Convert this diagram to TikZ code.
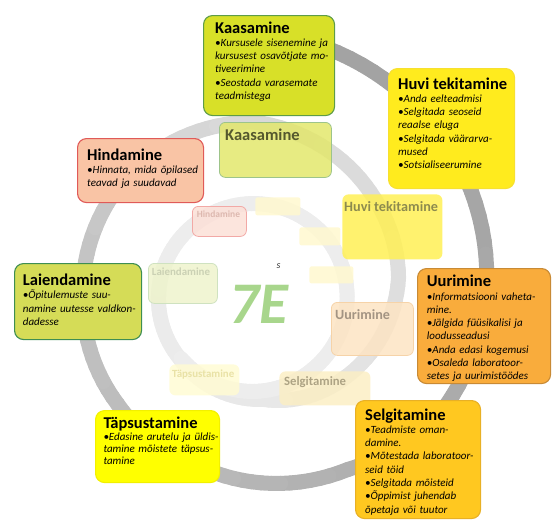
\documentclass[tikz,border=0pt]{standalone}
\usepackage{fontspec}
\setmainfont{Carlito}
\definecolor{kaasF}{HTML}{D8E028}\definecolor{kaasD}{HTML}{5E9C48}
\definecolor{huviF}{HTML}{FFEB1E}\definecolor{huviD}{HTML}{F7E030}
\definecolor{hindF}{HTML}{F9C4A5}\definecolor{hindD}{HTML}{E05A58}
\definecolor{laieF}{HTML}{D5DC57}\definecolor{laieD}{HTML}{3E8E52}
\definecolor{uuriF}{HTML}{F9AC3C}\definecolor{uuriD}{HTML}{C88A35}
\definecolor{selgF}{HTML}{FFC820}\definecolor{selgD}{HTML}{E8B025}
\definecolor{tapsF}{HTML}{FFFF00}\definecolor{tapsD}{HTML}{F2F000}
\definecolor{kaasS}{HTML}{E3E76C}\definecolor{kaasSd}{HTML}{9DC48A}\definecolor{kaasSt}{HTML}{55582E}
\definecolor{huviS}{HTML}{FFF055}\definecolor{huviSt}{HTML}{8D8B4E}
\definecolor{uuriS}{HTML}{FDE4C3}\definecolor{uuriSd}{HTML}{F6D3A8}\definecolor{uuriSt}{HTML}{A39483}
\definecolor{selgS}{HTML}{FBEEC4}\definecolor{selgSt}{HTML}{ADA384}
\definecolor{tapsS}{HTML}{FFFBD3}\definecolor{tapsSt}{HTML}{E9E2A6}
\definecolor{laieS}{HTML}{EEF3CC}\definecolor{laieSd}{HTML}{CFE2C0}\definecolor{laieSt}{HTML}{CBD1B4}
\definecolor{hindS}{HTML}{FCE0D7}\definecolor{hindSd}{HTML}{F2A9A6}\definecolor{hindSt}{HTML}{DDB8AF}
\definecolor{ghost}{HTML}{FFF8CF}
\definecolor{sevenE}{HTML}{A8D68C}
\newcommand\boxttl[1]{{\fontsize{16.5}{13.3}\selectfont\bfseries\upshape #1}}
\tikzset{
  mbox/.style={rounded corners=9pt, line width=1.1pt, inner sep=0pt, anchor=north west},
  fbox/.style={rounded corners=6pt, line width=0.8pt, inner sep=0pt, anchor=north west, fill opacity=0.85},
  mtxt/.style={anchor=base west, inner sep=0pt, text width=150pt, align=left,
    font=\fontsize{11}{13.3}\selectfont\itshape},
  ftxt/.style={anchor=base west, inner sep=0pt}
}
\begin{document}
\begin{tikzpicture}[x=1pt,y=-1pt]
\useasboundingbox (0,0) rectangle (557,531);
% spiral
\begin{scope}[shift={(253,298)}]
\foreach \ta/\ra/\ca/\tb/\rb/\cb in {
 -80/263/36/-26/243/35,
 -26/243/35/29/221/33,
 29/221/33/61/196/31,
 61/196/31/102/179/28,
 102/179/28/142/172/26,
 142/172/26/180/170/24,
 180/170/24/225/175/21,
 225/175/17/270/176/15,
 270/176/15/318/158/14,
 318/158/14/352/147/13,
 352/147/13/400/122/11,
 400/122/11/444/102/9,
 444/102/9/500/95/8,
 500/95/8/590/94/7,
 590/94/7/680/95/7,
 680/95/7/770/93/7,
 770/93/7/860/94/7}
{
  \pgfmathtruncatemacro\nseg{max(1,round(abs(\tb-\ta)/3))}
  \foreach \k in {1,...,\nseg}{
    \pgfmathsetmacro\fa{(\k-1)/\nseg}
    \pgfmathsetmacro\fb{\k/\nseg}
    \pgfmathsetmacro\tA{\ta+(\tb-\ta)*\fa}
    \pgfmathsetmacro\tB{\ta+(\tb-\ta)*\fb}
    \pgfmathsetmacro\rA{\ra+(\rb-\ra)*\fa}
    \pgfmathsetmacro\rB{\ra+(\rb-\ra)*\fb}
    \pgfmathtruncatemacro\cc{round(\ca+(\cb-\ca)*(\fa+\fb)/2)}
    \draw[line width=15, line cap=round, color=black!\cc] (\tA:\rA) -- (\tB:\rB);
  }
}
\end{scope}
% faint boxes
\node[fbox, fill=kaasS, draw=kaasSd, minimum width=112pt, minimum height=55pt] (kaasS) at (219,122) {};
\node[fbox, fill=huviS, draw=none, minimum width=100pt, minimum height=65pt] (huviS) at (342,194) {};
\node[fbox, fill=uuriS, draw=uuriSd, minimum width=82pt, minimum height=53pt] (uuriS) at (331,302) {};
\node[fbox, fill=selgS, draw=none, minimum width=91pt, minimum height=34pt] (selgS) at (279,371) {};
\node[fbox, fill=tapsS, draw=none, minimum width=70pt, minimum height=31pt] (tapsS) at (169,364) {};
\node[fbox, fill=laieS, draw=laieSd, minimum width=69pt, minimum height=40pt] (laieS) at (148,263) {};
\node[fbox, fill=hindS, draw=hindSd, minimum width=54pt, minimum height=30pt] (hindS) at (192,206) {};
\node[fbox, rounded corners=2pt, fill=ghost, draw=none, minimum width=45pt, minimum height=18pt] (g1) at (255,197) {};
\node[fbox, rounded corners=2pt, fill=ghost, draw=none, minimum width=41pt, minimum height=18pt] (g2) at (299,227) {};
\node[fbox, rounded corners=2pt, fill=ghost, draw=none, minimum width=44pt, minimum height=17pt] (g3) at (309,266) {};
\node[ftxt, text=kaasSt, font=\fontsize{16.5}{16.5}\selectfont\bfseries] (kaasSt) at (225,140.5) {Kaasamine};
\node[ftxt, text=huviSt, font=\fontsize{14.2}{14.2}\selectfont\bfseries] (huviSt) at (344,211.5) {Huvi tekitamine};
\node[ftxt, text=uuriSt, font=\fontsize{14.1}{14.1}\selectfont\bfseries] (uuriSt) at (335,319.5) {Uurimine};
\node[ftxt, text=selgSt, font=\fontsize{12.7}{12.7}\selectfont\bfseries] (selgSt) at (284,385) {Selgitamine};
\node[ftxt, text=tapsSt, font=\fontsize{10.9}{10.9}\selectfont\bfseries] (tapsSt) at (172,377) {Täpsustamine};
\node[ftxt, text=laieSt, font=\fontsize{10.9}{10.9}\selectfont\bfseries] (laieSt) at (151.7,275.5) {Laiendamine};
\node[ftxt, text=hindSt, font=\fontsize{9.5}{9.5}\selectfont\bfseries] (hindSt) at (196.7,217) {Hindamine};
% centre
\node[ftxt, text=sevenE, font=\fontsize{59}{59}\selectfont\bfseries\itshape] (e7) at (229,323) {7E};
\node[ftxt, text=black!80, font=\fontsize{10}{10}\selectfont\itshape] (s) at (276.5,268) {s};
% main boxes
\node[mbox, fill=kaasF, draw=kaasD, minimum width=131pt, minimum height=100pt] (kaas) at (203,15) {};
\node[mtxt] (kaasT) at (215,33) {\boxttl{Kaasamine}\\•Kursusele sisenemine ja\\kursusest osavõtjate mo-\\tiveerimine\\•Seostada varasemate\\teadmistega};
\node[mbox, fill=huviF, draw=huviD, minimum width=126pt, minimum height=120pt] (huvi) at (388,68) {};
\node[mtxt] (huviT) at (398,89) {\boxttl{Huvi tekitamine}\\•Anda eelteadmisi\\•Selgitada seoseid\\reaalse eluga\\•Selgitada väärarva-\\mused\\•Sotsialiseerumine};
\node[mbox, fill=hindF, draw=hindD, minimum width=126pt, minimum height=64pt] (hind) at (77,138) {};
\node[mtxt] (hindT) at (87,160) {\boxttl{Hindamine}\\•Hinnata, mida õpilased\\teavad ja suudavad};
\node[mbox, fill=laieF, draw=laieD, minimum width=127pt, minimum height=76pt] (laie) at (14,263) {};
\node[mtxt] (laieT) at (22.7,285.5) {\boxttl{Laiendamine}\\•Õpitulemuste suu-\\namine uutesse valdkon-\\dadesse};
\node[mbox, fill=uuriF, draw=uuriD, minimum width=133pt, minimum height=115pt] (uuri) at (417,268) {};
\node[mtxt] (uuriT) at (426.7,286.7) {\boxttl{Uurimine}\\•Informatsiooni vaheta-\\mine.\\•Jälgida füüsikalisi ja\\loodusseadusi\\•Anda edasi kogemusi\\•Osaleda laboratoor-\\setes ja uurimistöödes};
\node[mbox, fill=selgF, draw=selgD, minimum width=125pt, minimum height=118pt] (selg) at (355,400) {};
\node[mtxt] (selgT) at (365,420) {\boxttl{Selgitamine}\\•Teadmiste oman-\\damine.\\•Mõtestada laboratoor-\\seid töid\\•Selgitada mõisteid\\•Õppimist juhendab\\õpetaja või tuutor};
\node[mbox, fill=tapsF, draw=tapsD, minimum width=124pt, minimum height=72pt] (taps) at (95,410) {};
\node[mtxt, font=\fontsize{11}{12.2}\selectfont\itshape] (tapsT) at (103.3,428.3) {\boxttl{Täpsustamine}\\•Edasine arutelu ja üldis-\\tamine mõistete täpsus-\\tamine};
\end{tikzpicture}
\end{document}
